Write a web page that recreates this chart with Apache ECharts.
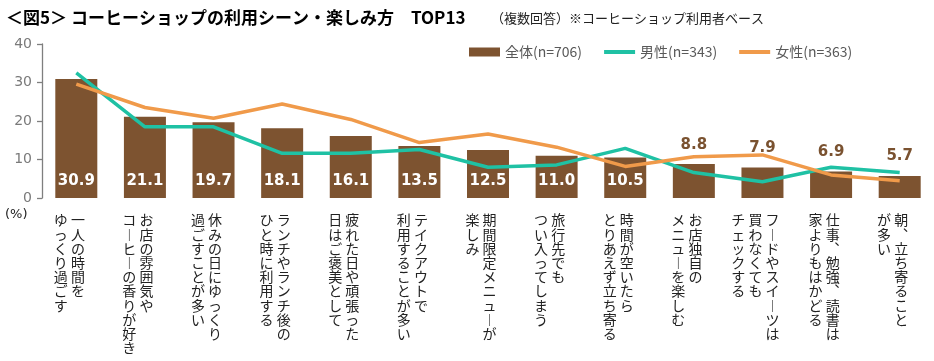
<!DOCTYPE html>
<html><head><meta charset="utf-8">
<script src="https://cdn.jsdelivr.net/npm/echarts@6/dist/echarts.min.js"></script>
<style>html,body{margin:0;padding:0;background:#fff}#c{width:934px;height:361px}</style>
</head><body><div id="c"></div>
<script>
// categories: each is a list of vertical columns, first = rightmost column
const categories = [
  ["一人の時間を", "ゆっくり過ごす"],
  ["お店の雰囲気や", "コーヒーの香りが好き"],
  ["休みの日にゆっくり", "過ごすことが多い"],
  ["ランチやランチ後の", "ひと時に利用する"],
  ["疲れた日や頑張った", "日はご褒美として"],
  ["テイクアウトで", "利用することが多い"],
  ["期間限定メニューが", "楽しみ"],
  ["旅行先でも", "つい入ってしまう"],
  ["時間が空いたら", "とりあえず立ち寄る"],
  ["お店独自の", "メニューを楽しむ"],
  ["フードやスイーツは", "買わなくても", "チェックする"],
  ["仕事、勉強、読書は", "家よりもはかどる"],
  ["朝、立ち寄ること", "が多い"]
];
const totalValues = [30.9, 21.1, 19.7, 18.1, 16.1, 13.5, 12.5, 11.0, 10.5, 8.8, 7.9, 6.9, 5.7];
const maleValues = [32.5, 18.5, 18.5, 11.6, 11.6, 12.6, 8.0, 8.6, 12.9, 6.6, 4.2, 8.0, 6.6];
const femaleValues = [29.6, 23.5, 20.7, 24.4, 20.4, 14.4, 16.6, 13.2, 8.2, 10.7, 11.2, 6.0, 4.5];
const seriesNames = ["全体(n=706)", "男性(n=343)", "女性(n=363)"];
const yTicks = [0, 10, 20, 30, 40];

const vmap = {'ー': '︱', '、': '︑'};
function vert(cols) {
  const arrs = cols.map(c => Array.from(c));
  const n = Math.max(...arrs.map(a => a.length));
  const rows = [];
  for (let i = 0; i < n; i++) {
    rows.push(arrs.slice().reverse().map(a => {
      const ch = a[i];
      return ch ? (vmap[ch] || ch) : '　';
    }).join(' '));
  }
  return rows.join('\n');
}
const catLabels = categories.map(vert);

const brown = '#7d5330', teal = '#1fc1a4', orange = '#f09a4a';
const lineIcon = 'path://M0,0 M0,9 M0,2.5 L31,2.5 L31,6.5 L0,6.5 Z';
const barData = totalValues.map((v, i) => ({
  value: v,
  label: i < 9
    ? {show: true, position: 'insideBottom', distance: 9, color: '#fff'}
    : {show: true, position: 'top', distance: 12, color: '#7a5230'}
}));

const chart = echarts.init(document.getElementById('c'), null, {renderer: 'canvas'});
chart.setOption({
  animation: false,
  textStyle: {fontFamily: '"Noto Sans CJK JP", sans-serif'},
  title: [
    {text: '＜図5＞ コーヒーショップの利用シーン・楽しみ方　TOP13', left: 1, top: 4,
     textStyle: {fontSize: 17, fontWeight: 'bold', color: '#000', fontFamily: '"Noto Sans CJK JP"'}},
    {text: '（複数回答）※コーヒーショップ利用者ベース', left: 486, top: 7,
     textStyle: {fontSize: 13, fontWeight: 'normal', color: '#222', fontFamily: '"Noto Sans CJK JP"'}}
  ],
  legend: {
    left: 464, top: 40, itemWidth: 31, itemHeight: 9, itemGap: 22,
    textStyle: {fontSize: 14, color: '#595959', fontFamily: '"Noto Sans CJK JP"'},
    data: [
      {name: seriesNames[0], icon: 'rect'},
      {name: seriesNames[1], icon: lineIcon},
      {name: seriesNames[2], icon: lineIcon}
    ]
  },
  grid: {left: 42, top: 44, width: 896, height: 154, containLabel: false},
  xAxis: {
    type: 'category', data: catLabels,
    axisLine: {show: false}, axisTick: {show: false},
    axisLabel: {interval: 0, margin: 15, verticalAlign: 'top', align: 'center',
      fontSize: 14, lineHeight: 14.2, color: '#222', padding: [0, 14, 0, 0],
      fontFamily: '"Noto Sans CJK JP"'}
  },
  yAxis: {
    type: 'value', min: yTicks[0], max: yTicks[yTicks.length - 1], interval: 10,
    splitLine: {show: false},
    axisLine: {show: true, lineStyle: {color: '#7f7f7f', width: 1.3}},
    axisTick: {show: true, length: 5, lineStyle: {color: '#7f7f7f', width: 1.3}},
    axisLabel: {fontSize: 14, color: '#7a7a7a', margin: 10, fontFamily: '"DejaVu Sans"'}
  },
  graphic: [
    {type: 'text', left: 5, top: 208, style: {text: '(%)', fontSize: 13, fill: '#222', fontFamily: '"DejaVu Sans"'}}
  ],
  series: [
    {name: seriesNames[0], type: 'bar', data: barData, barWidth: 42,
     itemStyle: {color: brown},
     label: {fontSize: 15, fontWeight: 'bold', fontFamily: '"DejaVu Sans"',
       formatter: p => Number(p.value).toFixed(1)}},
    {name: seriesNames[1], type: 'line', data: maleValues, symbol: 'none',
     lineStyle: {color: teal, width: 3.5}, itemStyle: {color: teal}},
    {name: seriesNames[2], type: 'line', data: femaleValues, symbol: 'none',
     lineStyle: {color: orange, width: 3.5}, itemStyle: {color: orange}}
  ]
});
</script></body></html>
